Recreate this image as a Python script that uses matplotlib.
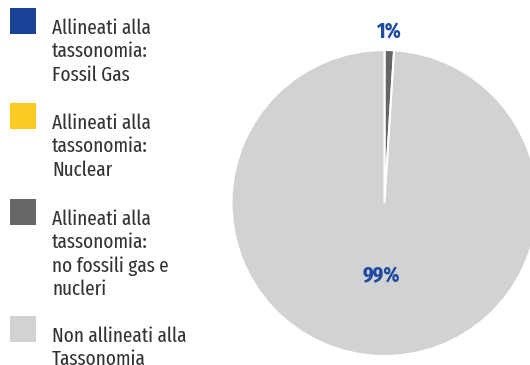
import matplotlib
matplotlib.use("Agg")
import matplotlib.pyplot as plt
from matplotlib.patches import Rectangle

labels = [
    "Allineati alla\ntassonomia:\nFossil Gas",
    "Allineati alla\ntassonomia:\nNuclear",
    "Allineati alla\ntassonomia:\nno fossili gas e\nnucleri",
    "Non allineati alla\nTassonomia",
]
values = [0, 0, 1, 99]
colors = ["#1b4297", "#fdc923", "#666666", "#d1d2d4"]
label_color = "#1f4aa0"
text_color = "#333333"

plt.rcParams["font.family"] = ["Fira Sans Extra Condensed", "DejaVu Sans"]

W, H = 530, 365
fig = plt.figure(figsize=(W / 100, H / 100), dpi=100)

# pie axes (pixel geometry of the circle)
cx, cy, r = 384.5, 203, 153
ax = fig.add_axes([(cx - r) / W, (H - cy - r) / H, 2 * r / W, 2 * r / H])
ax.pie(values, colors=colors, startangle=90, counterclock=False, radius=1,
       wedgeprops=dict(edgecolor="white", linewidth=1.5))
ax.set_xlim(-1, 1)
ax.set_ylim(-1, 1)
ax.set_aspect("equal")
ax.axis("off")

# percentage labels
ax.text(0.029, 1.078, f"{values[2]}%", ha="center", va="baseline",
        fontsize=16, fontweight="bold", color=label_color, clip_on=False)
ax.text(-0.022, -0.520, f"{values[3]}%", ha="center", va="baseline",
        fontsize=16, fontweight="bold", color=label_color)

# legend: colour swatch + multi-line caption
tops = [8, 103, 199, 316]
for lab, col, top in zip(labels, colors, tops):
    fig.patches.append(Rectangle((10 / W, 1 - (top + 26) / H), 26 / W, 26 / H,
                                 transform=fig.transFigure, facecolor=col,
                                 edgecolor="none"))
    fig.text(52 / W, 1 - (top + 10.5) / H, lab, ha="left", va="top",
             fontsize=15, color=text_color, linespacing=1.25)

fig.savefig("out.png", dpi=100)
